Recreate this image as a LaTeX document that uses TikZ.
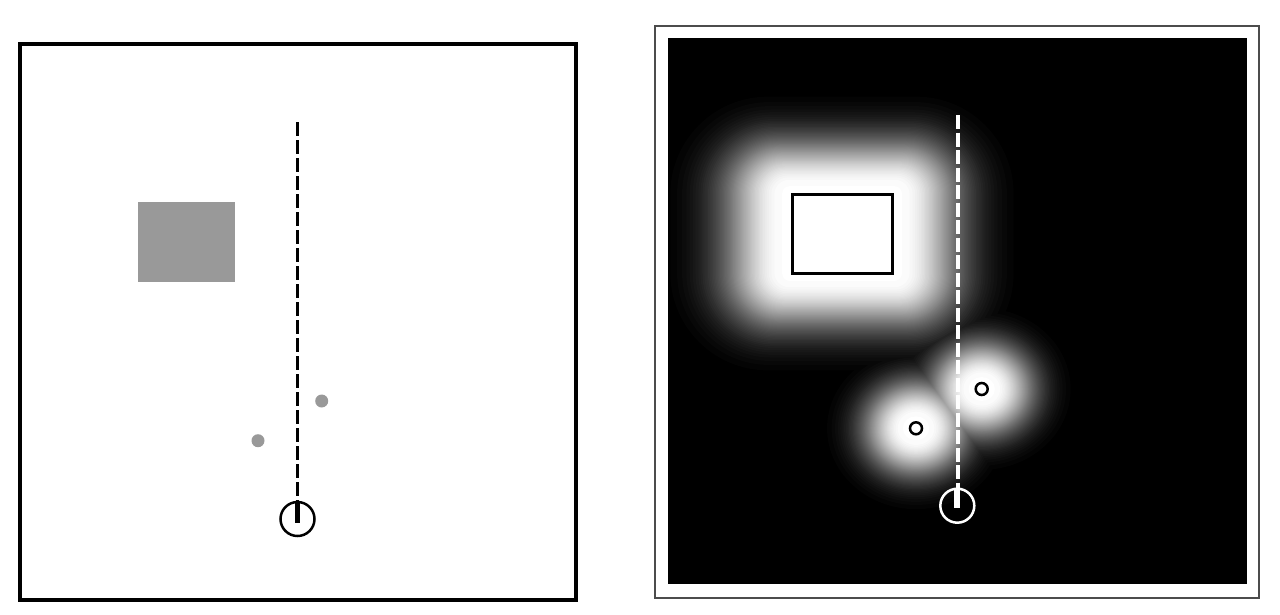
\documentclass[tikz,border=0pt]{standalone}
\begin{document}
\begin{tikzpicture}[x=1pt,y=-1pt,
  obst/.style={fill=gray!80},
  pathdash/.style={line width=2.5pt, dash pattern=on 14pt off 4pt},
  robot/.style={line width=2.5pt}]
\useasboundingbox (0,0) rectangle (1280,614);
\fill[white] (0,0) rectangle (1280,614);
% ---------- left panel ----------
\draw[line width=3.5pt] (20,44) rectangle (576,600);
\fill[obst] (138.3,202.3) rectangle (235,282.3);
\coordinate (l1) at (321.7,401);
\coordinate (l2) at (258,440.7);
\fill[obst] (l1) circle (6.5) (l2) circle (6.5);
\coordinate (lstart) at (297.5,122);
\coordinate (lend) at (297.5,503);
\coordinate (lrob) at (297.5,519);
\draw[pathdash] (lstart) -- (lend);
\draw[line width=5.5pt] (297.5,502) -- (297.5,523);
\draw[robot] (lrob) circle (17);
% ---------- right panel ----------
\draw[gray!60!black, line width=1.5pt] (655,26) rectangle (1259,598);
\fill[black] (667.5,37.5) rectangle (1247,584);
\coordinate (r1) at (981.7,389);
\coordinate (r2) at (916,428.3);
\begin{scope}
\clip (667.5,37.5) rectangle (1247,584);
\foreach \k in {2,...,64} {
  \pgfmathsetmacro\b{100*(\k-1)/63}
  \pgfmathsetmacro\t{sqrt(max(0,-ln(\k/64)))}
  \pgfmathsetmacro\dr{8+48*\t}
  \pgfmathsetmacro\dx{1.25*\dr}
  \pgfmathsetmacro\dc{12+37*\t}
  \pgfmathsetmacro\dcx{1.1*\dc}
  \fill[white!\b!black, rounded corners=\dr pt] (792-\dx,194-\dr) rectangle (892+\dx,273+\dr);
  \fill[white!\b!black] (r1) ellipse [x radius=\dcx, y radius=\dc] (r2) ellipse [x radius=\dcx, y radius=\dc];
}
\end{scope}
\draw[line width=3pt, fill=white] (792,194) rectangle (892,273);
\draw[line width=2.5pt, fill=white] (r1) circle (6) (r2) circle (6);
\coordinate (rstart) at (957.5,115);
\coordinate (rend) at (957.5,490);
\coordinate (rrob) at (957.3,505.7);
\draw[white, line width=4pt, dash pattern=on 14pt off 3.5pt] (rstart) -- (rend);
\draw[white, line width=6pt] (957.3,488) -- (957.3,508);
\draw[white, robot] (rrob) circle (17);
\end{tikzpicture}
\end{document}
